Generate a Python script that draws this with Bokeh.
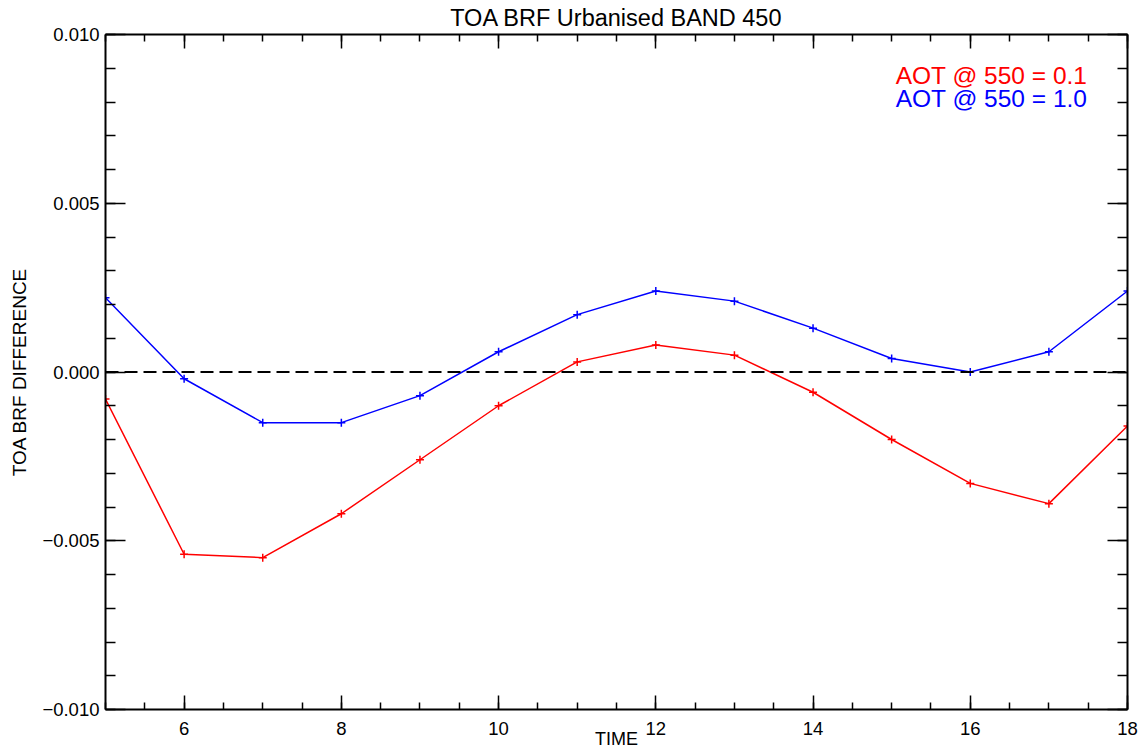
from bokeh.plotting import figure
from bokeh.models import (LinearAxis, FixedTicker, CustomJSTickFormatter, Span, Label, Range1d)
from bokeh.embed import file_html
from bokeh.resources import INLINE

# ---- data ----
time = [5, 6, 7, 8, 9, 10, 11, 12, 13, 14, 15, 16, 17, 18]
aot_01 = [-0.0008, -0.0054, -0.0055, -0.0042, -0.0026, -0.0010, 0.0003,
          0.0008, 0.0005, -0.0006, -0.0020, -0.0033, -0.0039, -0.0016]
aot_10 = [0.0022, -0.0002, -0.0015, -0.0015, -0.0007, 0.0006, 0.0017,
          0.0024, 0.0021, 0.0013, 0.0004, 0.0000, 0.0006, 0.0024]

x_major_ticks = [6, 8, 10, 12, 14, 16, 18]
x_minor_ticks = [5 + 0.5 * i for i in range(27)]
y_major_ticks = [-0.010, -0.005, 0.0, 0.005, 0.010]
y_minor_ticks = [round(-0.010 + 0.001 * i, 3) for i in range(21)]

title_text = "TOA BRF Urbanised BAND 450"
x_label = "TIME"
y_label = "TOA BRF DIFFERENCE"
legend_texts = ["AOT @ 550 = 0.1", "AOT @ 550 = 1.0"]
series_colors = ["#ff0000", "#0000ff"]

FONT = "Liberation Sans"
X0, X1 = 5, 18
Y0, Y1 = -0.010, 0.010

p = figure(width=1140, height=756, output_backend="svg", toolbar_location=None,
           title=None, x_range=Range1d(X0, X1), y_range=Range1d(Y0, Y1),
           x_axis_location=None, y_axis_location=None,
           min_border_left=105, min_border_right=13, min_border_top=34, min_border_bottom=47)
p.outline_line_color = None
p.background_fill_color = "white"
p.border_fill_color = "white"

yfmt = CustomJSTickFormatter(code="""
    if (Math.abs(tick) < 1e-12) { return '0.000'; }
    return (tick < 0 ? '\\u2212' : '') + Math.abs(tick).toFixed(3);
""")
blank = CustomJSTickFormatter(code="return '';")

def style_axis(ax, major_len, minor_len):
    ax.axis_line_color = "black"
    ax.axis_line_width = 2
    ax.major_tick_line_color = "black"
    ax.major_tick_line_width = 1.5
    ax.minor_tick_line_color = "black"
    ax.minor_tick_line_width = 1.5
    ax.major_tick_in = major_len
    ax.major_tick_out = 0
    ax.minor_tick_in = minor_len
    ax.minor_tick_out = 0
    ax.major_label_text_font = FONT
    ax.major_label_text_font_size = "18.5px"
    ax.major_label_text_color = "black"
    ax.axis_label_text_font = FONT
    ax.axis_label_text_font_style = "normal"
    ax.axis_label_text_color = "black"

xt = FixedTicker(ticks=x_major_ticks, minor_ticks=x_minor_ticks)
yt = FixedTicker(ticks=y_major_ticks, minor_ticks=y_minor_ticks)

bottom = LinearAxis(ticker=xt, axis_label=x_label)
style_axis(bottom, 14, 7)
bottom.major_label_standoff = 12
bottom.axis_label_text_font_size = "18px"
bottom.axis_label_standoff = -9
p.add_layout(bottom, "below")

top = LinearAxis(ticker=xt, formatter=blank, axis_label=title_text)
style_axis(top, 14, 7)
top.major_label_text_font_size = "0px"
top.major_label_standoff = 0
top.axis_label_text_font_size = "23.5px"
top.axis_label_standoff = 4
p.add_layout(top, "above")

left = LinearAxis(ticker=yt, formatter=yfmt, axis_label=y_label)
style_axis(left, 20, 10)
left.major_label_standoff = 6
left.axis_label_text_font_size = "19px"
left.axis_label_standoff = 9
p.add_layout(left, "left")

right = LinearAxis(ticker=yt, formatter=blank)
style_axis(right, 20, 10)
right.major_label_text_font_size = "0px"
right.major_label_standoff = 0
p.add_layout(right, "right")

p.xgrid.visible = False
p.ygrid.visible = False

p.add_layout(Span(location=0, dimension="width", line_color="black",
                  line_width=2, line_dash="13 6"))

for vals, col in zip([aot_01, aot_10], series_colors):
    p.line(time, vals, line_color=col, line_width=1.5)
    p.scatter(time, vals, marker="cross", size=8, line_color=col, line_width=1.5)

legend_y = [0.00878, 0.00809]
for txt, col, ly in zip(legend_texts, series_colors, legend_y):
    p.add_layout(Label(x=17.49, y=ly, text=txt, text_color=col, text_align="right",
                       text_baseline="alphabetic", text_font=FONT, text_font_size="24.5px"))

open("out.html", "w").write(file_html(p, INLINE))
